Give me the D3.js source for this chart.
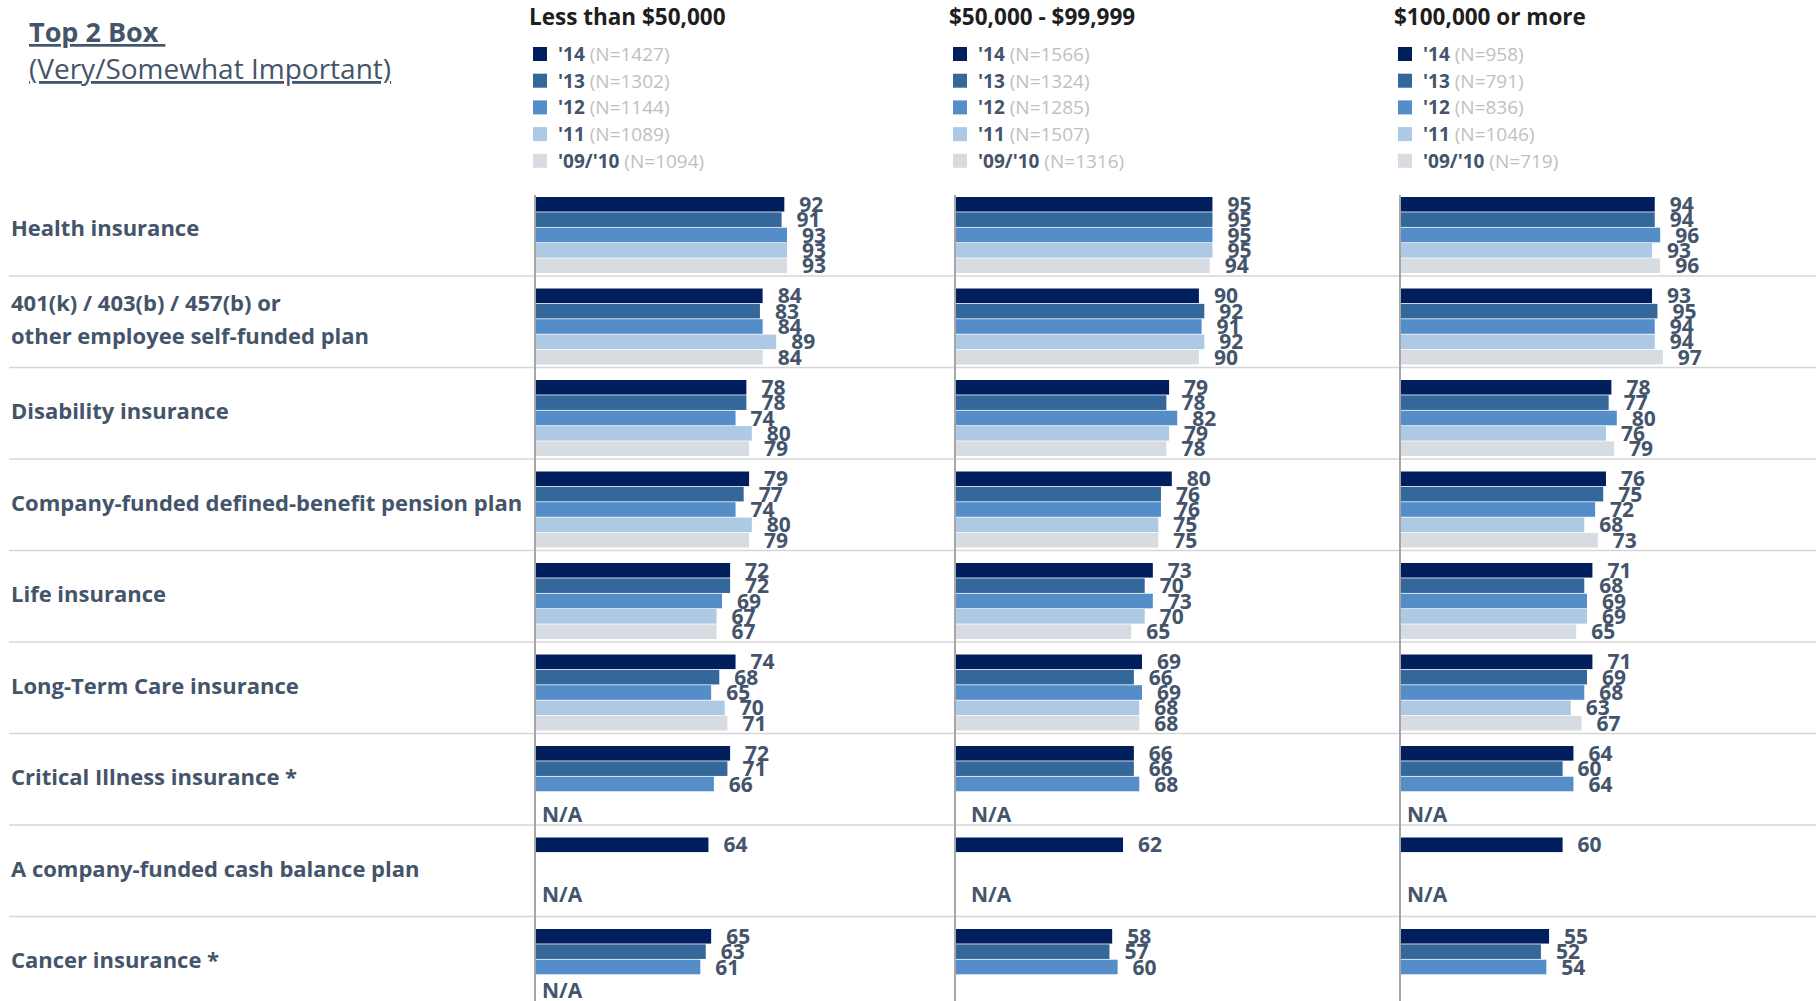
<!DOCTYPE html>
<html>
<head>
<meta charset="utf-8">
<script src="https://cdn.jsdelivr.net/npm/d3@7"></script>
<style>
  html, body { margin: 0; padding: 0; background: #ffffff; }
  svg { display: block; font-family: "Open Sans", "Noto Sans", sans-serif; }
</style>
</head>
<body>
<svg id="chart" width="1820" height="1001"></svg>
<script>
// ---------------- DATA ----------------
const categories = [
  "Health insurance",
  "401(k) / 403(b) / 457(b) or\nother employee self-funded plan",
  "Disability insurance",
  "Company-funded defined-benefit pension plan",
  "Life insurance",
  "Long-Term Care insurance",
  "Critical Illness insurance *",
  "A company-funded cash balance plan",
  "Cancer insurance *"
];
const seriesNames = ["'14", "'13", "'12", "'11", "'09/'10"];
const incomeGroups = ["Less than $50,000", "$50,000 - $99,999", "$100,000 or more"];

const sampleSizesLow  = [1427, 1302, 1144, 1089, 1094];
const sampleSizesMid  = [1566, 1324, 1285, 1507, 1316];
const sampleSizesHigh = [958, 791, 836, 1046, 719];

// rows = categories, columns = '14, '13, '12, '11, '09/'10 (null = N/A)
const valuesLow = [
  [92, 91, 93, 93, 93],
  [84, 83, 84, 89, 84],
  [78, 78, 74, 80, 79],
  [79, 77, 74, 80, 79],
  [72, 72, 69, 67, 67],
  [74, 68, 65, 70, 71],
  [72, 71, 66, null, null],
  [64, null, null, null, null],
  [65, 63, 61, null, null]
];
const valuesMid = [
  [95, 95, 95, 95, 94],
  [90, 92, 91, 92, 90],
  [79, 78, 82, 79, 78],
  [80, 76, 76, 75, 75],
  [73, 70, 73, 70, 65],
  [69, 66, 69, 68, 68],
  [66, 66, 68, null, null],
  [62, null, null, null, null],
  [58, 57, 60, null, null]
];
const valuesHigh = [
  [94, 94, 96, 93, 96],
  [93, 95, 94, 94, 97],
  [78, 77, 80, 76, 79],
  [76, 75, 72, 68, 73],
  [71, 68, 69, 69, 65],
  [71, 69, 68, 63, 67],
  [64, 60, 64, null, null],
  [60, null, null, null, null],
  [55, 52, 54, null, null]
];
// categories whose "N/A" note is visible in each panel
const naRowsLow  = [6, 7, 8];
const naRowsMid  = [6, 7];
const naRowsHigh = [6, 7];

const seriesColors = ["#001f5c", "#34679a", "#548dc8", "#adc9e4", "#d7dce3"];

// ---------------- LAYOUT ----------------
const svg = d3.select("#chart");
const slate = "#44546a";

const panels = [
  { name: incomeGroups[0], n: sampleSizesLow,  values: valuesLow,  na: naRowsLow,  x0: 535,  naDx: 7 },
  { name: incomeGroups[1], n: sampleSizesMid,  values: valuesMid,  na: naRowsMid,  x0: 955,  naDx: 16 },
  { name: incomeGroups[2], n: sampleSizesHigh, values: valuesHigh, na: naRowsHigh, x0: 1400, naDx: 7 }
];
// vertical placement of the N/A note inside its row
const naDy = { 6: 88, 7: 77, 8: 81 };

const rowTop = 184.5, rowH = 91.5;
const y = d3.scaleBand()
  .domain(categories)
  .range([rowTop, rowTop + rowH * categories.length])
  .padding(0);
const ySeries = d3.scaleBand()
  .domain(seriesNames)
  .range([12.5, 88.5])
  .paddingInner(0.05);
const color = d3.scaleOrdinal().domain(seriesNames).range(seriesColors);

// Title
const title = svg.append("g").attr("fill", slate);
title.append("text")
  .attr("x", 29).attr("y", 42)
  .attr("font-size", 27).attr("font-weight", 700)
  .attr("text-decoration", "underline")
  .text("Top 2 Box\u00a0");
title.append("text")
  .attr("x", 29).attr("y", 79)
  .attr("font-size", 28).attr("font-weight", 400)
  .attr("text-decoration", "underline")
  .text("(Very/Somewhat Important)");

// Row divider lines
svg.append("g").selectAll("line")
  .data(categories.slice(0, -1))
  .join("line")
  .attr("x1", 9).attr("x2", 1816)
  .attr("y1", d => y(d) + y.bandwidth())
  .attr("y2", d => y(d) + y.bandwidth())
  .attr("stroke", "#d6d6d6").attr("stroke-width", 1.5);

// Category labels
const catG = svg.append("g");
categories.forEach(c => {
  const lines = c.split("\n");
  const cy = y(c) + y.bandwidth() / 2;
  const lh = 33;
  const t = catG.append("text")
    .attr("x", 11)
    .attr("font-size", 22).attr("font-weight", 700)
    .attr("fill", slate);
  lines.forEach((ln, i) => {
    t.append("tspan")
      .attr("x", 11)
      .attr("y", cy + 6 + (i - (lines.length - 1) / 2) * lh)
      .text(ln);
  });
});

// Panels
panels.forEach(p => {
  const x = d3.scaleLinear().domain([0, 100]).range([p.x0, p.x0 + 271]);
  const g = svg.append("g");

  // header
  g.append("text")
    .attr("x", p.x0 - 6).attr("y", 25)
    .attr("font-size", 22.5).attr("font-weight", 700)
    .attr("fill", "#1e1e1e")
    .text(p.name);

  // legend
  const leg = g.append("g");
  seriesNames.forEach((s, i) => {
    const ly = 54 + i * 26.7;
    leg.append("rect")
      .attr("x", p.x0 - 2).attr("y", ly - 7)
      .attr("width", 14).attr("height", 14)
      .attr("fill", color(s));
    const t = leg.append("text")
      .attr("x", p.x0 + 23).attr("y", ly + 7)
      .attr("font-size", 19);
    t.append("tspan").attr("font-weight", 700).attr("fill", slate).text(s);
    t.append("tspan").attr("font-weight", 400).attr("fill", "#bfbfbf").text(" (N=" + p.n[i] + ")");
  });

  // bars
  const rows = categories.map((c, ci) => ({ c, vals: p.values[ci] }));
  const rowG = g.selectAll("g.row")
    .data(rows)
    .join("g")
    .attr("class", "row")
    .attr("transform", d => `translate(0,${y(d.c)})`);

  const barData = d => seriesNames.map((s, si) => ({ s, v: d.vals[si] })).filter(e => e.v != null);

  rowG.selectAll("rect")
    .data(barData)
    .join("rect")
    .attr("x", x(0))
    .attr("y", d => ySeries(d.s))
    .attr("width", d => x(d.v) - x(0))
    .attr("height", ySeries.bandwidth())
    .attr("fill", d => color(d.s));

  rowG.selectAll("text.val")
    .data(barData)
    .join("text")
    .attr("class", "val")
    .attr("x", d => x(d.v) + 15)
    .attr("y", d => ySeries(d.s) + ySeries.bandwidth() / 2 + 7.5)
    .attr("font-size", 21).attr("font-weight", 700)
    .attr("fill", slate)
    .text(d => d.v);

  // N/A notes
  g.selectAll("text.na")
    .data(p.na)
    .join("text")
    .attr("class", "na")
    .attr("x", x(0) + p.naDx)
    .attr("y", ci => y(categories[ci]) + naDy[ci])
    .attr("font-size", 21).attr("font-weight", 700)
    .attr("fill", slate)
    .text("N/A");

  // vertical axis line
  g.append("line")
    .attr("x1", x(0)).attr("x2", x(0))
    .attr("y1", 195).attr("y2", 1001)
    .attr("stroke", "#a6a6a6").attr("stroke-width", 2);
});
</script>
</body>
</html>
